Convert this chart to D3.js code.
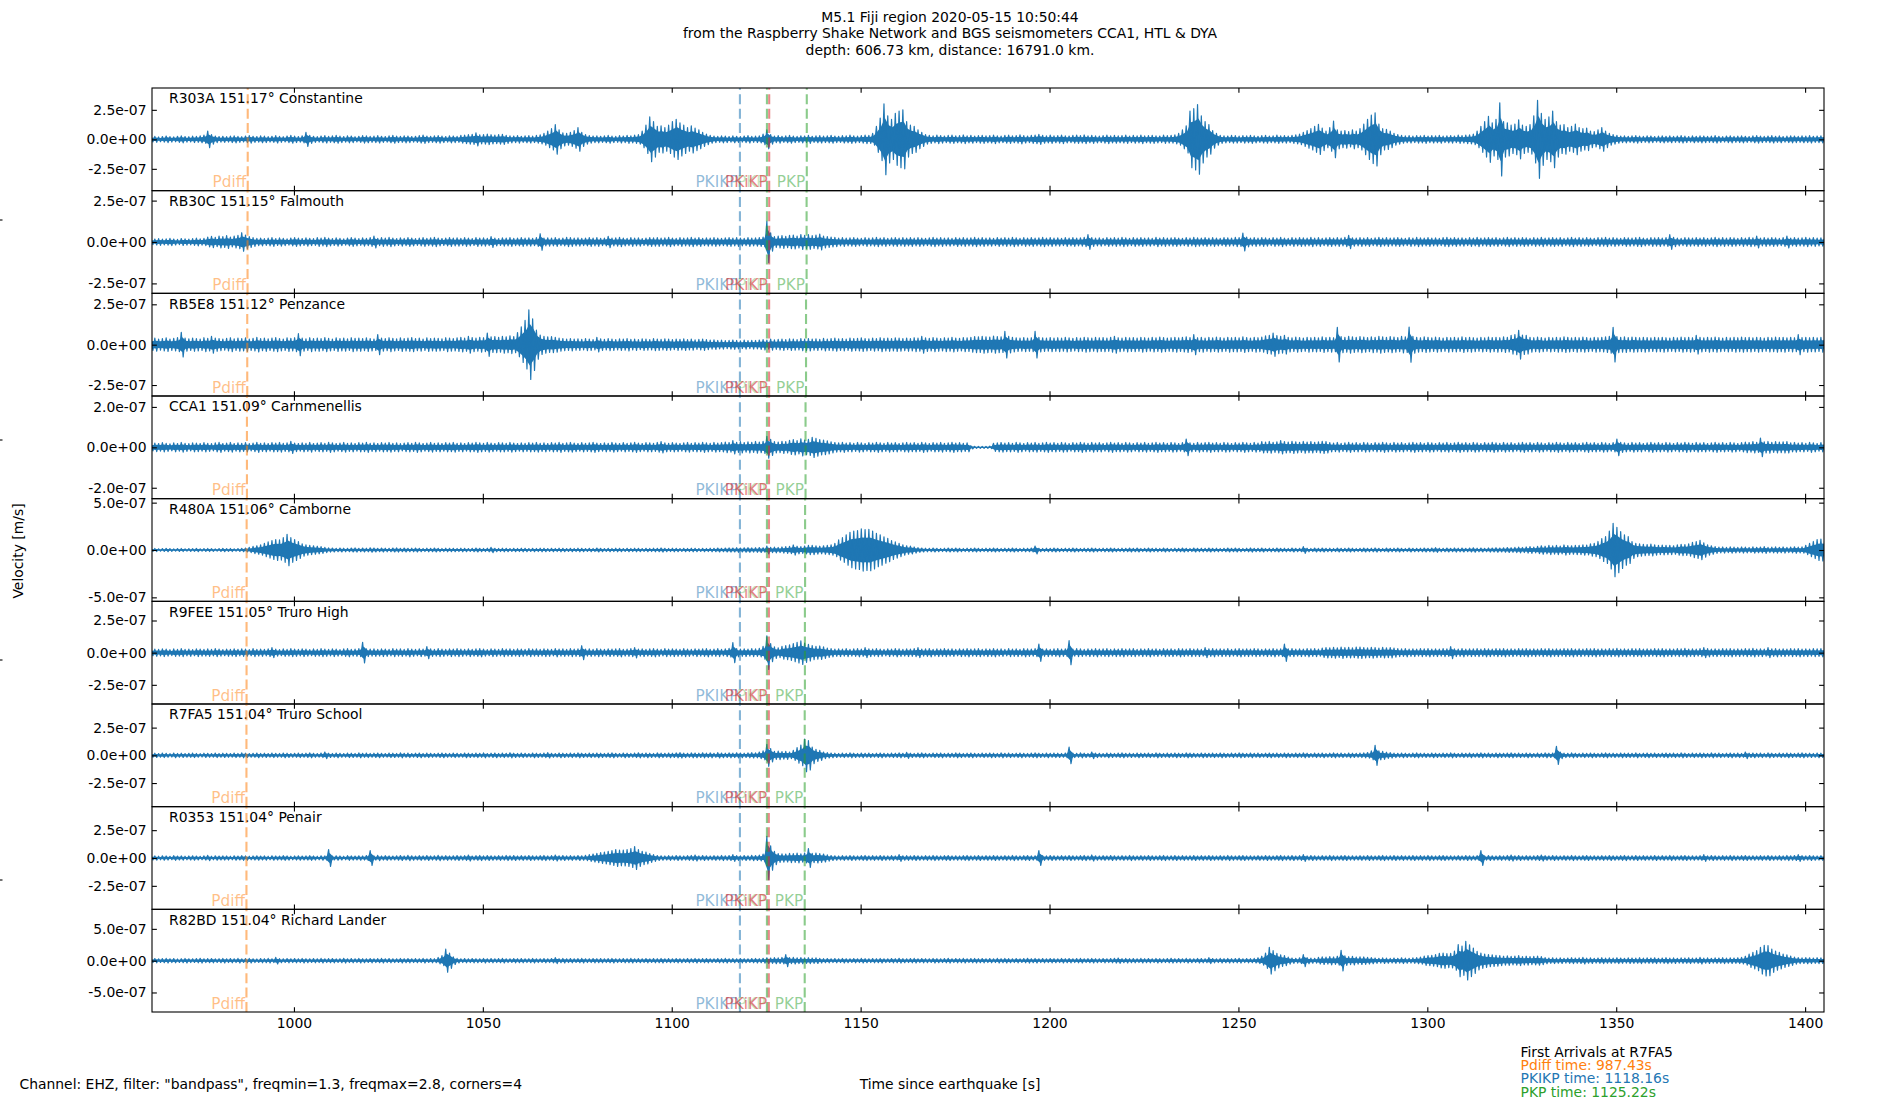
<!DOCTYPE html>
<html><head><meta charset="utf-8">
<script src="https://cdn.jsdelivr.net/npm/d3@7"></script>
<style>body{margin:0;background:#fff}svg{display:block;font-family:"DejaVu Sans",sans-serif}</style>
</head><body><svg id="c" width="1900" height="1100"></svg>
<script>
// ---------------- data ----------------
const titleLines = ["M5.1 Fiji region 2020-05-15 10:50:44",
  "from the Raspberry Shake Network and BGS seismometers CCA1, HTL & DYA",
  "depth: 606.73 km, distance: 16791.0 km."];
const stations = ["R303A 151.17° Constantine","RB30C 151.15° Falmouth","RB5E8 151.12° Penzance",
  "CCA1 151.09° Carnmenellis","R480A 151.06° Camborne","R9FEE 151.05° Truro High",
  "R7FA5 151.04° Truro School","R0353 151.04° Penair","R82BD 151.04° Richard Lander"];
const yHalfRange = [435,310,318,254,542,399,463,461,807];     // nm/s, axis half range
const yTickStep  = [250,250,250,200,500,250,250,250,500];     // nm/s
const unitScale = 1e-9;                                       // nm/s -> m/s
const xDomain = [962.43, 1405.0];
const xTicks = [1000,1050,1100,1150,1200,1250,1300,1350,1400];
const sampleStart = 962.43;  // s, first envelope sample
const sampleStep = 1;        // s
const rowLength = 20;

const phaseNames  = ["Pdiff","PKIKP","PKP","PKiKP","PKP"];
const phaseColors = ["#ff7f0e","#1f77b4","#2ca02c","#d62728","#2ca02c"];
const pdiffTimes = [987.77,987.72,987.64,987.56,987.48,987.46,987.43,987.43,987.43];
const pkikpTimes = [1118.05,1118.05,1118.05,1118.05,1118.05,1118.05,1118.05,1118.05,1118.05];
const pkpTimes   = [1125.2,1125.2,1125.2,1125.2,1125.2,1125.2,1125.2,1125.2,1125.2];
const pkikpRefl  = [1125.8,1125.8,1125.78,1125.76,1125.74,1125.72,1125.7,1125.7,1125.7];
const pkpLateTimes = [1135.75,1135.7,1135.55,1135.42,1135.3,1135.25,1135.2,1135.2,1135.2];

const infoTitle = "First Arrivals at R7FA5";
const infoLines = ["Pdiff time: 987.43s","PKIKP time: 1118.16s","PKP time: 1125.22s"];
const infoColors = ["#ff7f0e","#1f77b4","#2ca02c"];
const footLeft = 'Channel: EHZ, filter: "bandpass", freqmin=1.3, freqmax=2.8, corners=4';
const xLabel = "Time since earthquake [s]";
const yLabel = "Velocity [m/s]";

// peak amplitude (nm/s) per second, rows of 20 s
const envR303A = [
[22,25,20,24,28,23,21,26,30,24,22,27,25,29,35,70,40,28,24,26],
[23,27,30,25,22,28,32,26,24,29,27,23,26,31,25,22,28,33,27,24],
[30,60,34,26,23,28,31,25,29,33,27,24,30,28,22,26,32,29,25,27],
[31,26,24,29,33,27,25,30,28,24,26,31,35,28,25,29,32,27,24,30],
[28,25,33,36,40,42,55,38,41,44,39,36,40,43,34,30,28,32,26,29],
[31,27,33,38,50,70,90,125,80,55,50,60,75,100,60,40,32,28,30,26],
[29,33,27,25,31,28,34,30,35,40,70,120,190,150,110,115,100,120,150,170],
[140,120,100,115,95,80,60,45,33,28,25,30,27,24,29,26,23,28,31,25],
[27,30,45,80,40,28,32,26,29,33,27,25,30,28,34,26,29,31,27,30],
[33,28,26,31,29,35,30,27,32,36,34,50,110,180,300,200,170,220,240,250],
[150,120,110,80,60,40,34,30,36,32,28,33,35,29,31,37,30,33,28,32],
[34,29,31,36,30,27,33,35,29,32,38,31,28,34,36,42,33,30,35,29],
[32,36,30,28,33,35,31,37,29,34,30,27,32,36,30,33,29,31,35,28],
[33,30,36,29,32,34,30,28,35,31,33,38,50,80,115,240,260,295,200,150],
[125,75,50,34,30,28,33,31,27,32,29,34,30,26,31,33,28,30,35,29],
[32,28,34,38,45,60,75,90,110,128,95,70,100,155,80,70,75,65,80,70],
[90,130,170,205,225,130,90,85,70,50,40,33,29,31,27,32,30,34,28,31],
[29,33,27,30,32,28,35,31,36,38,45,70,110,150,195,140,170,310,150,140],
[120,130,165,120,110,125,200,330,220,170,190,240,150,120,125,100,110,130,100,90],
[95,70,65,80,100,70,50,40,33,28,30,26,29,32,27,25,30,28,24,27],
[30,26,29,25,28,31,27,24,29,26,30,28,25,27,31,26,23,28,30,25],
[27,30,26,24,29,32,27,25,28,31,26,29,24,27,30,28,25,29,27,31],
[26,28,30,27]];
const envRB30C = [
[16,18,20,17,19,22,18,16,21,19,17,20,23,19,22,30,34,28,36,32],
[38,30,35,40,56,42,33,26,22,24,20,23,26,21,25,22,19,24,27,23],
[21,25,22,20,26,23,28,24,21,25,22,19,24,27,23,20,25,22,26,36],
[22,26,23,28,24,21,25,22,27,24,20,23,26,22,25,28,23,21,24,27],
[23,25,22,26,24,21,27,23,25,22,32,24,21,25,23,26,22,24,27,23],
[25,22,26,50,24,25,23,27,22,24,28,26,23,25,22,24,27,23,26,22],
[24,34,23,25,28,24,22,26,23,25,21,24,27,25,26,23,25,28,24,22],
[26,23,25,28,24,27,22,25,23,26,24,22,25,27,23,26,24,22,26,23],
[25,27,30,125,55,32,35,38,34,40,42,36,45,40,44,38,42,48,36,32],
[30,28,24,26,23,25,27,24,22,26,23,25,28,24,26,22,25,27,23,26],
[24,27,23,26,24,22,25,28,24,26,23,25,22,27,24,26,23,25,28,24],
[26,23,25,22,27,24,26,23,28,25,22,26,24,27,23,25,28,24,26,23],
[25,22,26,24,27,23,25,28,44,26,23,25,22,27,24,26,23,28,25,22],
[26,24,27,23,25,22,28,24,26,23,25,27,24,22,26,23,28,25,24,27],
[23,26,24,22,27,25,23,28,26,54,30,24,26,23,27,25,22,26,24,28],
[24,22,26,23,27,25,24,28,23,26,22,25,27,24,26,23,28,40,25,23],
[26,24,27,22,25,28,24,26,23,25,27,24,22,26,23,28,25,24,27,23],
[25,22,26,28,24,27,23,25,22,26,24,28,23,25,27,24,26,22,25,28],
[24,26,23,27,25,22,26,24,28,23,25,27,24,26,22,25,28,24,26,23],
[27,24,22,26,25,28,23,26,24,22,27,25,23,26,28,24,22,26,25,27],
[23,26,44,28,24,22,26,25,23,27,24,26,22,25,28,24,26,23,27,25],
[22,26,24,28,25,36,23,26,24,27,25,22,26,36,24,27,23,25,28,24],
[26,23,25,27]];
const envRB5E8 = [
[36,40,34,38,42,35,39,44,76,40,36,41,38,35,43,39,52,41,37,34],
[39,43,36,40,38,42,35,39,45,37,41,36,40,44,38,35,42,39,43,68],
[40,36,43,38,41,37,44,39,35,42,38,40,36,43,39,41,37,42,38,35],
[62,40,37,43,39,36,42,38,41,44,37,40,35,42,38,41,39,36,43,40],
[38,42,45,41,52,44,40,46,43,72,48,50,46,52,49,55,50,75,110,150],
[215,160,90,60,52,48,50,46,40,37,35,38,34,36,33,37,35,32,45,36],
[33,37,35,32,36,34,38,33,35,31,36,34,32,37,35,33,36,34,31,35],
[33,36,32,34,30,33,35,31,28,30,26,28,25,27,29,26,24,28,25,27],
[26,29,32,28,34,30,33,35,31,36,34,32,37,35,38,34,36,33,39,35],
[37,40,36,38,35,41,37,39,42,38,36,40,37,43,39,41,38,42,40,37],
[41,38,43,40,52,42,39,44,41,38,43,40,45,41,39,44,42,46,50,48],
[52,49,47,53,50,48,82,51,45,42,40,44,41,43,82,45,42,40,44,41],
[43,40,45,42,39,44,41,46,43,40,45,42,44,41,46,52,43,40,45,42],
[44,41,46,43,40,45,42,47,44,41,43,46,42,45,48,44,62,43,46,41],
[45,42,47,44,41,46,43,45,42,48,44,41,46,43,47,55,58,72,56,52],
[58,45,42,47,44,41,46,43,45,42,48,44,46,43,107,50,46,52,48,45],
[50,47,44,49,46,52,48,45,50,47,44,51,48,109,52,46,43,48,45,42],
[47,44,41,46,43,45,42,48,44,46,43,41,45,42,47,44,46,43,48,45],
[58,62,89,60,58,46,43,47,44,41,45,42,46,43,48,45,42,46,43,47],
[44,41,46,43,45,48,52,107,50,46,48,44,47,45,43,46,44,42,45,43],
[46,43,41,45,42,47,44,46,43,58,45,42,46,43,47,44,41,45,42,46],
[43,47,44,45,42,46,44,41,45,43,47,44,46,42,45,43,62,44,46,43],
[45,42,46,44]];
const envCCA1 = [
[18,21,19,23,20,17,22,19,24,20,18,22,21,19,23,20,18,22,25,19],
[21,24,19,22,20,23,18,21,25,20,22,19,23,21,24,20,22,30,21,19],
[22,20,24,19,21,23,20,25,22,19,21,24,20,22,19,23,21,25,20,22],
[19,23,21,24,20,22,18,21,23,20,25,22,19,21,24,20,22,19,23,21],
[24,20,22,19,23,21,25,22,20,24,21,19,23,22,20,24,21,19,22,20],
[23,21,24,20,22,19,23,21,25,20,22,24,21,19,23,20,22,25,21,19],
[22,20,24,21,19,23,20,22,25,21,19,23,22,20,24,28,22,20,23,21],
[19,22,24,20,23,21,25,22,20,24,21,23,26,24,33,25,28,24,27,25],
[29,26,30,54,40,28,26,30,28,35,38,33,42,36,40,50,44,38,36,32],
[27,24,22,25,21,23,20,24,22,19,23,21,25,22,20,24,21,23,19,22],
[24,21,23,20,25,22,19,23,21,24,20,22,25,21,23,20,22,8,5,5],
[5,5,6,20,22,24,21,23,20,25,22,19,23,21,24,20,22,25,21,23],
[20,24,22,19,23,21,25,22,20,24,21,23,19,22,25,21,23,20,24,22],
[19,23,21,24,20,22,25,21,23,20,24,22,19,23,41,22,20,24,21,23],
[25,21,23,20,24,22,19,23,21,25,22,20,24,21,28,26,29,25,27,33],
[28,26,30,27,25,29,26,28,25,27,30,28,23,21,24,20,22,25,21,23],
[20,24,22,19,23,21,25,22,20,24,21,23,19,22,25,21,23,20,24,22],
[19,23,21,24,20,22,25,21,23,20,24,22,19,23,21,25,22,20,24,21],
[23,19,22,25,21,23,20,24,22,19,23,21,25,22,20,24,21,23,19,22],
[25,21,23,20,24,22,19,23,41,25,22,20,24,21,23,19,22,25,21,23],
[20,24,22,19,23,21,25,22,20,24,21,23,19,22,25,21,23,20,24,22],
[19,23,26,24,28,25,46,27,29,25,28,26,27,28,22,24,21,23,20,25],
[22,19,23,21]];
const envR480A = [
[14,16,13,15,17,14,12,15,16,13,15,14,17,13,15,16,14,12,15,17],
[14,16,13,15,17,20,28,38,45,55,70,85,100,110,106,130,165,130,110,88],
[65,55,50,45,40,35,28,22,20,18,21,19,17,20,22,18,21,19,23,20],
[18,21,19,17,20,22,18,20,17,19,21,18,16,19,17,20,18,16,19,17],
[18,16,19,17,15,18,20,17,16,19,28,18,16,19,17,15,18,16,19,17],
[15,18,16,19,17,15,18,16,19,17,15,18,16,19,17,15,18,16,20,17],
[15,18,16,19,17,15,18,16,19,17,15,18,16,19,17,22,18,16,19,17],
[15,18,16,19,17,15,18,16,19,17,20,18,21,22,20,24,21,23,25,22],
[24,26,23,42,28,30,27,32,35,38,53,40,36,42,48,50,44,40,45,48],
[55,70,106,130,160,187,200,205,222,215,218,200,176,160,140,123,100,85,70,55],
[45,42,32,25,21,19,17,20,18,16,19,21,17,20,18,16,19,17,20,18],
[16,19,17,20,18,16,19,17,20,18,16,19,17,20,42,18,16,19,17,20],
[18,16,19,17,20,18,16,19,17,20,18,16,19,17,20,18,16,19,17,20],
[17,20,16,18,21,17,19,16,20,18,15,19,17,21,18,16,20,17,19,18],
[20,17,19,16,18,21,17,20,18,16,19,22,18,17,20,16,19,18,21,17],
[19,16,20,18,17,35,19,16,20,18,21,17,19,16,20,18,17,21,19,16],
[18,20,17,19,22,18,16,20,17,19,21,18,16,20,18,17,19,21,18,20],
[25,19,17,20,18,22,19,21,18,20,23,19,21,18,22,20,24,21,23,26],
[24,28,30,27,32,35,31,38,45,40,50,44,48,42,53,47,45,50,48,55],
[52,65,70,90,120,141,200,282,240,194,160,141,88,70,65,60,58,62,55,50],
[52,48,50,45,55,60,58,65,80,88,102,75,55,45,35,30,32,28,33,30],
[28,32,30,27,33,29,31,35,28,30,33,29,32,28,31,34,30,33,50,70],
[90,110,116,106]];
const envR9FEE = [
[24,28,25,30,27,23,29,26,31,25,28,24,30,27,26,29,25,31,27,24],
[28,26,30,25,29,27,24,31,26,28,25,30,39,27,24,29,26,31,28,25],
[30,27,24,29,26,31,28,25,30,27,24,29,32,26,28,31,80,30,27,29],
[26,30,28,25,31,27,29,26,32,28,25,30,27,47,29,26,31,28,25,30],
[27,31,28,25,30,26,29,32,27,24,30,28,25,31,27,29,26,30,28,25],
[31,27,29,26,30,28,25,32,27,29,26,31,28,30,54,27,29,26,31,28],
[25,30,27,29,32,26,28,31,40,27,30,26,29,32,28,25,31,27,30,28],
[26,31,28,25,30,27,29,32,26,28,31,25,30,34,78,32,28,30,27,31],
[29,33,50,130,70,45,38,50,55,60,70,80,91,75,65,55,50,52,45,36],
[32,28,30,27,31,26,29,32,28,39,30,27,31,28,25,30,27,32,29,26],
[30,28,31,39,27,29,32,26,30,28,31,27,29,25,30,28,32,27,29,31],
[26,30,28,32,27,29,25,31,28,30,26,32,29,27,31,67,28,30,26,29],
[32,28,30,93,27,31,29,26,30,28,32,27,29,31,26,30,28,32,27,29],
[31,26,30,28,32,27,29,25,31,28,30,26,32,29,27,31,28,30,26,39],
[29,32,27,30,28,31,26,29,32,28,30,27,31,29,26,30,28,32,27,30],
[67,29,31,27,30,28,32,29,31,27,36,40,38,42,37,44,39,41,38,43],
[44,40,38,42,39,36,41,38,40,35,31,29,32,28,30,27,31,29,32,28],
[30,27,31,29,47,30,28,32,27,30,29,31,28,32,30,27,31,29,32,28],
[30,27,31,29,32,28,30,27,31,29,32,28,30,27,31,29,32,28,30,27],
[31,29,32,28,30,27,31,29,33,28,30,27,31,29,32,28,30,27,31,29],
[32,28,30,27,31,29,33,28,30,27,31,39,32,28,30,27,31,29,32,28],
[30,27,31,29,33,28,30,27,39,29,32,28,30,27,31,29,32,28,30,27],
[31,29,32,28]];
const envR7FA5 = [
[17,19,16,20,18,15,21,17,19,16,18,20,17,15,19,18,16,20,17,19],
[18,16,20,17,22,19,16,18,21,17,19,16,20,18,17,21,19,16,18,20],
[17,19,22,18,16,20,30,19,17,21,18,16,20,19,17,22,18,20,17,19],
[21,18,16,20,19,17,22,18,20,16,19,21,17,20,18,16,19,21,18,17],
[20,18,16,21,19,17,20,18,22,16,19,21,17,20,18,23,19,17,20,18],
[16,21,19,17,20,24,18,16,21,19,17,20,18,22,19,17,20,18,21,19],
[17,20,22,18,16,21,19,17,20,23,18,21,19,17,22,20,18,21,19,22],
[24,20,18,22,21,19,23,20,22,18,24,21,19,22,20,23,21,19,22,24],
[22,30,40,99,60,36,38,34,36,30,45,70,93,147,132,75,55,45,30,24],
[21,19,17,20,18,22,19,17,21,18,20,16,19,21,18,17,20,19,22,18],
[27,19,17,20,22,18,16,20,19,21,17,19,18,22,20,17,19,21,18,16],
[20,18,21,19,17,22,18,20,16,19,21,18,17,20,22,19,17,21,18,20],
[19,17,21,75,20,18,22,19,17,30,20,18,16,21,19,17,20,22,18,19],
[17,21,19,18,20,16,22,19,17,20,18,21,19,17,22,20,18,16,21,19],
[18,20,17,21,19,16,20,18,22,19,17,21,18,20,16,19,21,18,20,17],
[21,19,17,20,18,22,19,16,20,18,21,17,19,22,18,20,17,21,19,18],
[20,22,25,40,90,40,36,28,24,20,18,21,19,17,20,22,18,19,17,21],
[19,17,20,18,22,19,16,20,18,21,17,19,22,18,20,17,21,19,18,20],
[22,18,20,17,21,19,16,20,18,22,19,21,81,30,20,18,22,19,17,20],
[18,21,19,17,20,22,18,19,17,21,19,20,18,22,17,19,21,18,20,16],
[19,21,18,20,17,22,19,16,20,18,21,19,17,22,18,20,16,19,21,18],
[20,17,30,19,21,18,20,17,22,19,16,20,18,21,19,17,20,22,18,19],
[17,21,19,18]];
const envR0353 = [
[17,19,16,20,18,15,21,17,19,16,18,20,17,15,19,24,16,20,17,19],
[18,16,20,17,21,19,16,18,20,17,19,16,20,18,17,21,19,16,18,20],
[17,19,21,18,16,20,19,75,17,20,18,16,21,19,17,20,18,22,66,19],
[24,18,21,19,17,20,22,18,24,20,17,21,19,22,18,20,24,19,21,18],
[20,22,19,21,27,18,21,23,19,22,20,18,21,19,23,20,22,18,21,19],
[22,20,18,21,23,19,21,27,20,22,19,21,18,22,20,24,30,36,42,48],
[54,60,66,75,70,72,75,85,102,75,60,54,40,30,22,20,18,21,19,22],
[20,18,21,23,27,19,22,20,18,21,19,23,20,22,30,21,19,22,20,24],
[22,26,35,195,110,60,40,38,36,42,40,44,38,45,84,42,45,40,36,28],
[22,20,18,21,19,22,20,18,21,23,19,21,18,22,20,19,21,18,30,20],
[21,19,22,20,18,21,19,23,20,18,21,22,19,20,18,21,23,19,20,22],
[18,21,19,22,20,18,21,19,23,20,18,21,22,19,20,66,21,19,22,20],
[18,21,19,22,20,18,21,23,19,27,20,18,21,19,22,20,18,21,19,23],
[20,18,21,19,22,20,18,21,23,19,20,22,18,21,19,20,22,18,21,19],
[22,20,18,21,19,23,20,18,21,22,19,20,18,21,19,22,20,18,21,23],
[19,20,22,18,21,30,19,22,20,18,21,19,23,20,18,21,22,19,20,18],
[21,19,22,20,18,21,23,19,20,22,18,21,19,20,22,18,21,19,23,20],
[18,21,22,19,20,18,21,19,22,20,18,21,66,19,22,20,18,21,19,23],
[27,20,22,18,21,19,20,22,27,21,19,22,20,18,21,19,23,20,18,21],
[22,19,20,18,21,19,22,20,18,21,23,19,20,22,18,21,19,20,22,18],
[21,19,23,20,18,21,22,19,20,18,21,30,19,22,20,18,21,19,23,20],
[18,21,22,19,20,18,21,19,22,20,18,21,19,23,20,22,30,21,19,22],
[20,18,21,19]];
const envR82BD = [
[30,34,28,32,36,29,33,27,31,35,30,28,33,37,29,32,34,28,31,35],
[29,33,30,36,28,32,35,30,27,33,31,36,29,52,32,28,34,30,33,29],
[35,31,28,33,30,36,29,32,34,28,31,37,30,33,29,35,31,28,34,30],
[32,36,29,33,30,28,35,31,34,29,32,30,36,28,33,31,50,80,180,120],
[60,35,30,33,29,34,31,28,35,30,33,29,32,36,30,28,34,31,33,29],
[31,35,30,28,33,29,34,47,31,35,30,33,28,32,36,30,29,34,31,33],
[29,32,35,30,28,33,31,36,29,32,30,34,28,33,31,35,29,32,30,34],
[31,28,33,30,35,29,32,34,30,28,33,31,36,29,32,30,34,31,28,33],
[35,31,38,45,42,48,44,50,94,47,52,45,48,43,46,42,44,36,32,34],
[30,33,29,35,31,28,34,30,36,32,29,33,31,35,30,28,34,31,37,32],
[29,33,36,30,34,31,28,35,32,30,33,37,29,34,31,36,30,33,35,31],
[34,30,33,29,36,31,35,32,30,34,28,33,37,31,35,30,33,29,34,32],
[30,35,31,34,29,33,36,30,32,35,31,28,34,30,33,37,42,32,35,31],
[33,30,36,31,34,29,35,32,30,33,37,31,34,30,36,32,29,35,33,31],
[47,34,30,36,32,35,31,33,37,30,34,32,36,45,70,120,210,157,115,90],
[79,55,42,38,45,94,48,40,38,52,60,55,65,58,70,162,75,62,68,55],
[60,58,52,48,42,38,44,40,36,42,38,45,40,37,43,48,55,73,80,85],
[95,115,120,110,115,150,252,230,304,250,199,147,120,105,95,90,85,79,70,75],
[68,72,79,65,70,63,68,72,63,48,42,45,40,44,38,42,46,41,44,52],
[40,44,38,42,46,40,43,39,45,41,38,44,42,40,46,39,43,41,45,38],
[42,46,40,44,38,43,41,45,39,42,52,40,44,38,43,41,46,40,44,42],
[45,52,70,105,130,157,210,241,236,183,150,131,105,90,73,55,47,44,48,45],
[42,46,44,48]];
const envelopes = [envR303A, envRB30C, envRB5E8, envCCA1, envR480A, envR9FEE, envR7FA5, envR0353, envR82BD];

// ---------------- layout ----------------
const W = 1900, H = 1100;
const L = 152, R = 1824, T = 88, B = 1012;
const nP = stations.length, PH = (B - T) / nP;
const TICK = 4.86;
const FS = 13.9;
const lineCol = "#1f77b4";
const coreFrac = 0.6;   // share of the peak drawn as the dense core of the trace

const svg = d3.select("#c");
svg.append("rect").attr("width", W).attr("height", H).attr("fill", "#fff");

const x = d3.scaleLinear().domain(xDomain).range([L, R]);
const fmtE = v => {
  if (Math.abs(v) < 1e-20) return "0.0e+00";
  const e = Math.floor(Math.log10(Math.abs(v)) + 1e-9);
  const m = v / Math.pow(10, e);
  const es = (e < 0 ? "-" : "+") + String(Math.abs(e)).padStart(2, "0");
  return m.toFixed(1) + "e" + es;
};

const defs = svg.append("defs");
const phaseSets = [pdiffTimes, pkikpTimes, pkpTimes, pkikpRefl, pkpLateTimes];

stations.forEach((name, i) => {
  const top = T + i * PH, bot = top + PH;
  const half = yHalfRange[i];
  const y = d3.scaleLinear().domain([-half, half]).range([bot, top]);
  const g = svg.append("g");
  defs.append("clipPath").attr("id", "cp" + i)
    .append("rect").attr("x", L).attr("y", top).attr("width", R - L).attr("height", PH);

  const samples = [];
  envelopes[i].forEach((row, r) => row.forEach((v, j) => {
    samples.push({t: sampleStart + (r * rowLength + j) * sampleStep, v: v});
  }));
  // dense core
  const area = d3.area().x(d => x(d.t)).y0(d => y(-coreFrac * d.v)).y1(d => y(coreFrac * d.v));
  g.append("path").datum(samples).attr("d", area).attr("clip-path", "url(#cp" + i + ")")
    .attr("fill", lineCol);
  // each one-second peak drawn as an up and a down swing
  const pts = [];
  samples.forEach(s => { pts.push([s.t - 0.25 * sampleStep, s.v], [s.t + 0.25 * sampleStep, -s.v]); });
  const line = d3.line().x(d => x(d[0])).y(d => y(d[1]));
  g.append("path").datum(pts).attr("d", line).attr("clip-path", "url(#cp" + i + ")")
    .attr("fill", "none").attr("stroke", lineCol).attr("stroke-width", 1.2).attr("stroke-linejoin", "round");

  // station label
  g.append("text").attr("x", 169).attr("y", top + 15.2).attr("font-size", FS).attr("fill", "#000").text(name);

  // phase lines + labels
  phaseSets.forEach((arr, k) => {
    const px = x(arr[i]);
    g.append("line").attr("x1", px).attr("x2", px).attr("y1", bot).attr("y2", top)
      .attr("stroke", phaseColors[k]).attr("stroke-opacity", 0.55).attr("stroke-width", 2.1)
      .attr("stroke-dasharray", "10,4.4");
  });
  phaseSets.forEach((arr, k) => {
    const px = x(arr[i]);
    g.append("text").attr("x", px - 1.5).attr("y", bot - 3.5).attr("text-anchor", "end")
      .attr("font-size", 15.3).attr("fill", phaseColors[k]).attr("fill-opacity", k === 2 ? 0.3 : (k === 3 ? 0.6 : 0.5)).text(phaseNames[k]);
  });

  // axes
  const step = yTickStep[i];
  const yt = [-step, 0, step];
  const ax = d3.axisLeft(y).tickValues(yt).tickSize(-TICK).tickPadding(5.5).tickFormat(d => fmtE(d * unitScale));
  const gl = svg.append("g").attr("transform", `translate(${L},0)`).call(ax);
  const ar = svg.append("g").attr("transform", `translate(${R},0)`).call(d3.axisRight(y).tickValues(yt).tickSize(-TICK).tickFormat(""));
  const at = svg.append("g").attr("transform", `translate(0,${top})`).call(d3.axisTop(x).tickValues(xTicks).tickSize(-TICK).tickFormat(""));
  const ab = svg.append("g").attr("transform", `translate(0,${bot})`).call(
    d3.axisBottom(x).tickValues(xTicks).tickSize(-TICK).tickPadding(6.5).tickFormat(i === nP - 1 ? d3.format("d") : ""));
  [gl, ar, at, ab].forEach(a => {
    a.select(".domain").remove();
    a.selectAll(".tick line").attr("stroke", "#000").attr("stroke-width", 1.1);
    a.selectAll("text").attr("font-size", FS).attr("font-family", "DejaVu Sans").attr("fill", "#000");
  });
  svg.append("rect").attr("x", L).attr("y", top).attr("width", R - L).attr("height", PH)
    .attr("fill", "none").attr("stroke", "#000").attr("stroke-width", 1.1);
});

// titles and labels
titleLines.forEach((s, k) => svg.append("text").attr("x", W / 2).attr("y", 21.7 + k * 16.65)
  .attr("text-anchor", "middle").attr("font-size", FS).attr("fill", "#000").text(s));
svg.append("text").attr("transform", "translate(22.5,551) rotate(-90)").attr("text-anchor", "middle")
  .attr("font-size", FS).attr("fill", "#000").text(yLabel);
svg.append("text").attr("x", 950).attr("y", 1089).attr("text-anchor", "middle").attr("font-size", FS).attr("fill", "#000").text(xLabel);
svg.append("text").attr("x", 19.5).attr("y", 1089).attr("font-size", FS).attr("fill", "#000").text(footLeft);
svg.append("text").attr("x", 1520.5).attr("y", 1056.7).attr("font-size", FS).attr("fill", "#000").text(infoTitle);
infoLines.forEach((s, k) => svg.append("text").attr("x", 1520.5).attr("y", 1070 + k * 13.35)
  .attr("font-size", FS).attr("fill", infoColors[k]).text(s));
// tiny edge ticks of the figure-wide frame
[220, 440, 660, 880].forEach(v => svg.append("line").attr("x1", 0).attr("x2", 2.5).attr("y1", v).attr("y2", v)
  .attr("stroke", "#000").attr("stroke-width", 1.1));
</script></body></html>
